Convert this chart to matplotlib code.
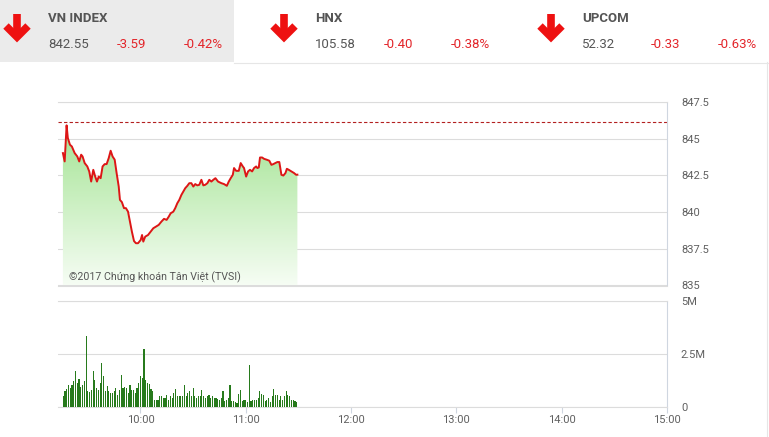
"""VN-Index intraday chart (morning session) with volume bars."""

import numpy as np
import matplotlib
matplotlib.use("Agg")
import matplotlib.pyplot as plt
from matplotlib.lines import Line2D
from matplotlib.patches import Rectangle
from matplotlib.colors import LinearSegmentedColormap

W, H = 769, 437

# header quotes
INDEX_NAMES = ["VN INDEX", "HNX", "UPCOM"]
INDEX_VALUES = ["842.55", "105.58", "52.32"]
INDEX_CHANGES = ["-3.59", "-0.40", "-0.33"]
INDEX_PCTS = ["-0.42%", "-0.38%", "-0.63%"]

REF_PRICE = 846.14

# minutes after 9:00 and index level
price_min = [15.8, 16.8, 17.9, 18.6, 19.8, 20.9, 22.5, 24.0, 25.1, 26.2,
             27.0, 28.2, 29.7, 30.8, 31.9, 33.1, 34.2, 35.2, 36.2, 37.3,
             38.4, 39.6, 40.7, 41.9, 43.0, 44.1, 45.3, 46.4, 47.6, 48.3,
             49.4, 50.6, 51.7, 52.9, 54.0, 55.1, 56.3, 57.4, 58.6, 60.1,
             60.9, 61.6, 62.7, 64.3, 65.8, 67.3, 68.8, 70.4, 71.9, 73.4,
             74.9, 76.1, 77.2, 78.7, 79.8, 81.0, 82.1, 83.3, 84.4, 85.5,
             86.7, 87.8, 89.0, 90.1, 91.2, 92.4, 93.5, 94.7, 95.8, 96.9,
             98.1, 99.2, 100.4, 101.5, 102.7, 104.2, 106.1, 107.6, 109.2, 110.3,
             111.4, 112.6, 113.3, 114.5, 116.0, 117.1, 118.3, 119.0, 120.2, 121.3,
             122.4, 123.6, 124.7, 125.9, 126.6, 127.4, 128.1, 129.3, 130.4, 131.9,
             133.4, 134.6, 135.7, 136.8, 138.0, 139.1, 140.3, 141.4, 142.6, 143.4,
             144.5, 146.0, 147.5, 148.7, 149.4]
prices = [844.02, 843.45, 845.91, 845.05, 844.59, 844.47, 844.02, 843.79, 843.45, 843.91,
          843.79, 843.34, 843.11, 842.77, 842.08, 842.88, 842.42, 842.08, 842.42, 842.31,
          843.11, 843.27, 843.27, 843.68, 844.18, 843.79, 843.57, 842.66, 841.74, 840.83,
          840.68, 840.27, 840.27, 840.03, 839.35, 838.67, 838.03, 837.88, 837.88, 838.10,
          838.44, 837.99, 838.33, 838.44, 838.67, 838.90, 839.01, 839.13, 839.35, 839.54,
          839.47, 839.69, 839.92, 840.03, 840.27, 840.61, 840.83, 841.17, 841.40, 841.63,
          841.79, 841.97, 841.97, 841.74, 841.91, 841.82, 841.86, 842.20, 841.82, 841.86,
          841.97, 842.20, 842.08, 842.20, 842.31, 842.08, 841.97, 841.91, 841.79, 842.08,
          842.31, 842.54, 843.00, 842.81, 842.81, 843.34, 843.11, 843.00, 842.42, 842.77,
          842.88, 842.77, 843.00, 843.11, 843.00, 843.04, 843.72, 843.72, 843.63, 843.57,
          843.50, 843.22, 843.27, 843.34, 843.41, 843.41, 842.54, 842.49, 842.66, 842.95,
          842.88, 842.77, 842.66, 842.54, 842.55]

# volume per minute (millions), first bar at 9:16
VOL_START = 16
volumes = [0.53, 0.74, 0.85, 1.05, 0.90, 1.05, 1.21, 1.68, 1.13, 1.32,
           0.94, 1.05, 1.21, 3.33, 0.77, 0.69, 0.82, 1.68, 1.29, 0.90,
           0.82, 1.13, 2.08, 1.48, 0.74, 1.01, 0.74, 0.66, 0.66, 0.74,
           0.90, 0.58, 0.82, 1.53, 0.90, 0.94, 0.90, 0.66, 1.05, 0.79,
           0.79, 0.66,
           0.90, 1.13, 1.45, 1.37, 2.74, 1.29, 1.13, 1.10, 0.85, 0.74,
           0.35, 0.31, 0.35, 0.50, 0.50, 0.42, 0.42, 0.58, 0.35, 0.53,
           0.42, 0.66, 0.85, 0.50, 0.53, 0.53, 0.53, 1.05, 0.50, 0.66,
           0.74, 0.50, 0.90, 0.50, 0.42, 0.50, 0.50, 0.82, 0.50, 0.42,
           0.50, 0.58, 0.42, 0.53, 0.42, 0.42,
           0.38, 0.35, 0.42, 0.74, 0.27, 0.35, 0.42, 1.05, 0.27, 0.27,
           0.22, 0.19, 0.63, 0.82, 0.27, 0.35, 0.31, 0.22, 2.00, 0.27,
           0.31, 0.35, 0.31, 0.42, 0.74, 0.63, 0.58, 0.27, 0.35, 0.42,
           0.22, 0.53, 0.85, 0.58, 0.58, 0.31, 0.50, 0.35, 0.53, 0.74,
           0.58, 0.50, 0.35, 0.31, 0.27, 0.22]

X_TICKS = [60, 120, 180, 240, 300, 360]
X_LABELS = ["10:00", "11:00", "12:00", "13:00", "14:00", "15:00"]
PRICE_TICKS = [835, 837.5, 840, 842.5, 845, 847.5]
PRICE_LABELS = ["835", "837.5", "840", "842.5", "845", "847.5"]
VOL_TICKS = [0, 2.5, 5]
VOL_LABELS = ["0", "2.5M", "5M"]

plt.rcParams.update({
    "font.family": ["Roboto", "DejaVu Sans"],
    "font.size": 8,
})

GRID = "#dcdcdc"
BORDER = "#cfd6e0"
TEXT = "#606060"
RED = "#e3262b"

XMIN, XMAX = 13, 360


def fbox(x0, y0, x1, y1):
    """pixel box (top-left origin) -> figure rect."""
    return [x0 / W, 1 - y1 / H, (x1 - x0) / W, (y1 - y0) / H]


def px(x, y):
    return x / W, 1 - y / H


fig = plt.figure(figsize=(W / 100, H / 100), dpi=100)
fig.patch.set_facecolor("white")

# ---- header ----
fig.add_artist(Rectangle(px(0, 62), 234 / W, 62 / H, transform=fig.transFigure,
                         facecolor="#ebebeb", edgecolor="none", zorder=0))
fig.add_artist(Line2D([234 / W, 1], [1 - 62.5 / H] * 2, transform=fig.transFigure,
                      color="#e6e6e6", lw=0.8))
fig.add_artist(Line2D([766.5 / W] * 2, [0, 1 - 62 / H], transform=fig.transFigure,
                      color="#e6e6e6", lw=0.8))

arrow_x = [17, 284, 551]
text_x = [48, 315, 582]
for i in range(3):
    ax0 = arrow_x[i]
    for xs, ys in [([ax0, ax0], [14, 36]),
                   ([ax0 - 11, ax0, ax0 + 11], [26, 37, 26])]:
        fx = [x / W for x in xs]
        fy = [1 - y / H for y in ys]
        fig.add_artist(Line2D(fx, fy, transform=fig.transFigure, color="#ee1111",
                              lw=5.5, solid_capstyle="butt", solid_joinstyle="miter"))
    x0 = text_x[i]
    fig.text(*px(x0, 18), INDEX_NAMES[i], fontsize=9.5, fontweight="bold",
             color="#555555", va="center", ha="left")
    fig.text(*px(x0, 45), INDEX_VALUES[i], fontsize=9.5, color="#555555",
             va="center", ha="left")
    fig.text(*px(x0 + 69, 45), INDEX_CHANGES[i], fontsize=9.5, color=RED,
             va="center", ha="left")
    fig.text(*px(x0 + 175, 45), INDEX_PCTS[i], fontsize=9.5, color=RED,
             va="center", ha="right")

# ---- price panel ----
ax = fig.add_axes(fbox(58, 102, 667, 285.5))
ax.set_facecolor("none")
ax.set_xlim(XMIN, XMAX)
ax.set_ylim(835, 847.5)

poly = ax.fill_between(price_min, prices, 835, facecolor="none", edgecolor="none")
cmap = LinearSegmentedColormap.from_list("g", ["#f6fdf4", "#9fe28e"])
grad = np.linspace(0, 1, 256).reshape(-1, 1)
im = ax.imshow(grad, cmap=cmap, origin="lower", aspect="auto",
               extent=[XMIN, XMAX, 835, 846.5], zorder=1)
im.set_clip_path(poly.get_paths()[0], transform=ax.transData)

ax.plot(price_min, prices, color="#dd1616", lw=1.4, zorder=3)
ax.axhline(REF_PRICE, color="#b32020", lw=0.8, ls=(0, (3, 2)), zorder=2)

ax.set_yticks(PRICE_TICKS)
ax.set_yticklabels(PRICE_LABELS)
ax.set_xticks([])
ax.yaxis.tick_right()
ax.tick_params(axis="y", length=0, pad=10, labelcolor=TEXT, labelsize=8)
ax.grid(axis="y", color=GRID, lw=0.8)
ax.set_axisbelow(True)
ax.spines["left"].set_visible(False)
for side in ["top", "bottom"]:
    ax.spines[side].set_color(GRID)
    ax.spines[side].set_linewidth(0.8)
ax.spines["right"].set_color(BORDER)
ax.spines["right"].set_linewidth(0.8)

# ---- volume panel ----
vx = fig.add_axes(fbox(58, 301, 667, 407))
vx.set_facecolor("none")
vol_min = np.arange(len(volumes)) + VOL_START
vx.bar(vol_min, volumes, width=0.65, color="#277a1c", zorder=3)
vx.set_xlim(XMIN, XMAX)
vx.set_ylim(0, 5)
vx.set_yticks(VOL_TICKS)
vx.set_yticklabels(VOL_LABELS)
vx.yaxis.tick_right()
vx.tick_params(axis="y", length=0, pad=10, labelcolor=TEXT, labelsize=8)
vx.set_xticks(X_TICKS)
vx.set_xticklabels(X_LABELS)
vx.tick_params(axis="x", length=4, width=0.8, color=BORDER, pad=2,
               labelcolor=TEXT, labelsize=8)
vx.grid(axis="y", color=GRID, lw=0.8)
vx.set_axisbelow(True)
vx.spines["left"].set_visible(False)
for side in ["top", "bottom"]:
    vx.spines[side].set_color(GRID)
    vx.spines[side].set_linewidth(0.8)
vx.spines["right"].set_color(BORDER)
vx.spines["right"].set_linewidth(0.8)

fig.text(*px(69, 277), "©2017 Chứng khoán Tân Việt (TVSI)", fontsize=7.7,
         color="#555555", va="center", ha="left")

fig.savefig("out.png", dpi=100)
